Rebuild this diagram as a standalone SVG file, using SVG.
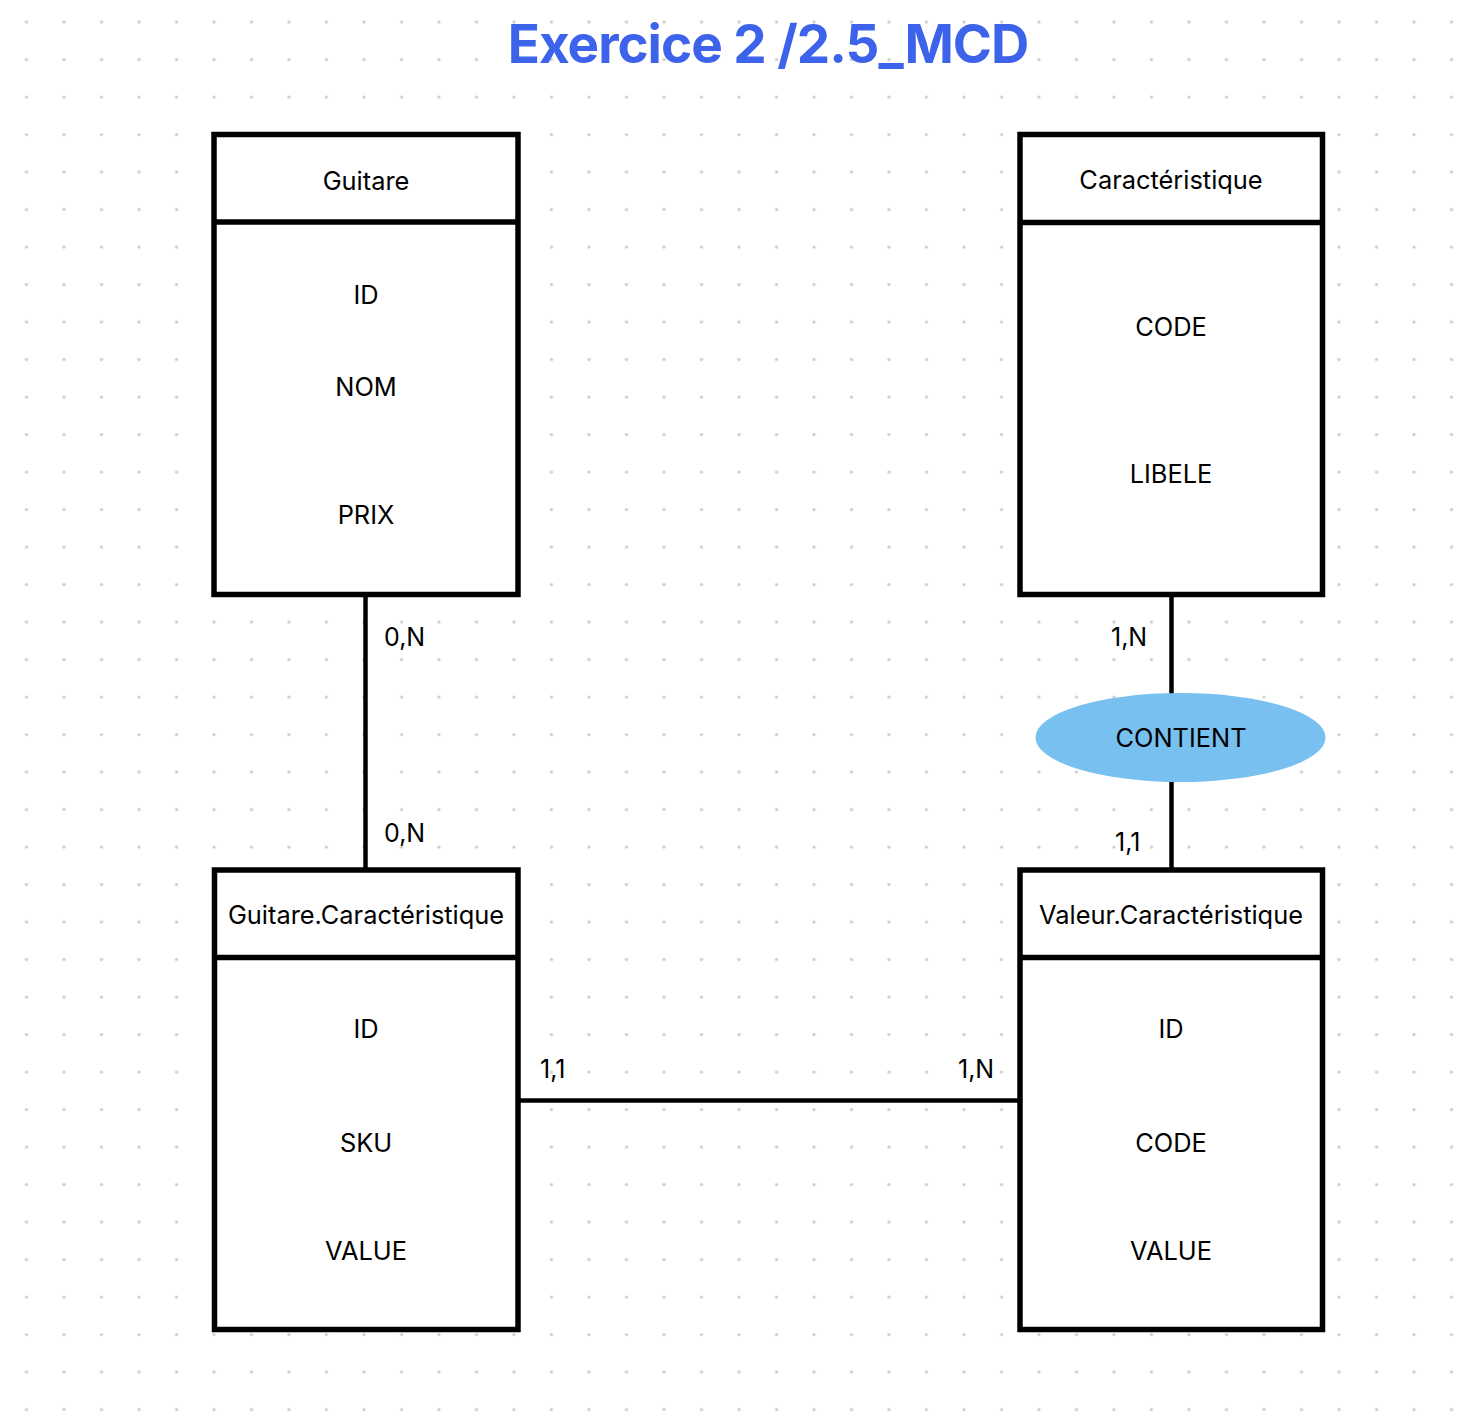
<svg xmlns="http://www.w3.org/2000/svg" width="1480" height="1428" viewBox="0 0 1480 1428">
<style>
.box{fill:#ffffff;stroke:#000000;stroke-width:5.5}
.div{stroke:#000000;stroke-width:5.5}
.conn{stroke:#000000;stroke-width:4.5;fill:none}
.t{font-family:Inter,"Liberation Sans",sans-serif;font-size:25.4px;fill:#000000;text-anchor:middle}
.card{font-family:Inter,"Liberation Sans",sans-serif;font-size:25px;fill:#000000}
.title{font-family:Inter,"Liberation Sans",sans-serif;font-size:53px;font-weight:700;letter-spacing:-1px;fill:#3D63EA;text-anchor:middle}
</style>
<defs>
<pattern id="dots" x="0" y="0" width="37.5" height="37.5" patternUnits="userSpaceOnUse">
<circle cx="26.5" cy="22" r="1.6" fill="#cccccc"/>
</pattern>
</defs>
<rect x="0" y="0" width="1480" height="1428" fill="#ffffff"/>
<rect x="0" y="0" width="1480" height="1428" fill="url(#dots)"/>
<text class="title" x="768" y="63">Exercice 2 /2.5_MCD</text>
<g id="connectors">
<line class="conn" x1="365.5" y1="597" x2="365.5" y2="868"/>
<line class="conn" x1="1171.5" y1="597" x2="1171.5" y2="868"/>
<line class="conn" x1="520" y1="1100.5" x2="1018" y2="1100.5"/>
<text class="card" x="384" y="646">0,N</text>
<text class="card" x="384" y="842">0,N</text>
<text class="card" x="1111" y="646">1,N</text>
<text class="card" x="1115" y="851">1,1</text>
<text class="card" x="540" y="1078">1,1</text>
<text class="card" x="958" y="1078">1,N</text>
</g>
<g id="guitare">
<rect class="box" x="214" y="134.5" width="304" height="460"/>
<line class="div" x1="214" y1="222" x2="518" y2="222"/>
<text class="t" x="366" y="190">Guitare</text>
<text class="t" x="366" y="304">ID</text>
<text class="t" x="366" y="396">NOM</text>
<text class="t" x="366" y="524">PRIX</text>
</g>
<g id="caracteristique">
<rect class="box" x="1020" y="134.5" width="302.5" height="460"/>
<line class="div" x1="1020" y1="222.5" x2="1322.5" y2="222.5"/>
<text class="t" x="1171" y="189">Caractéristique</text>
<text class="t" x="1171" y="336">CODE</text>
<text class="t" x="1171" y="483">LIBELE</text>
</g>
<g id="contient">
<ellipse cx="1180.5" cy="737.5" rx="145" ry="44.5" fill="#78C0F0"/>
<text class="t" x="1181" y="747">CONTIENT</text>
</g>
<g id="guitare-caracteristique">
<rect class="box" x="214.5" y="870" width="303.5" height="459.5"/>
<line class="div" x1="214.5" y1="957.5" x2="518" y2="957.5"/>
<text class="t" x="366" y="924">Guitare.Caractéristique</text>
<text class="t" x="366" y="1038">ID</text>
<text class="t" x="366" y="1152">SKU</text>
<text class="t" x="366" y="1260">VALUE</text>
</g>
<g id="valeur-caracteristique">
<rect class="box" x="1020" y="870" width="302.5" height="459.5"/>
<line class="div" x1="1020" y1="957.5" x2="1322.5" y2="957.5"/>
<text class="t" x="1171" y="924">Valeur.Caractéristique</text>
<text class="t" x="1171" y="1038">ID</text>
<text class="t" x="1171" y="1152">CODE</text>
<text class="t" x="1171" y="1260">VALUE</text>
</g>
</svg>
